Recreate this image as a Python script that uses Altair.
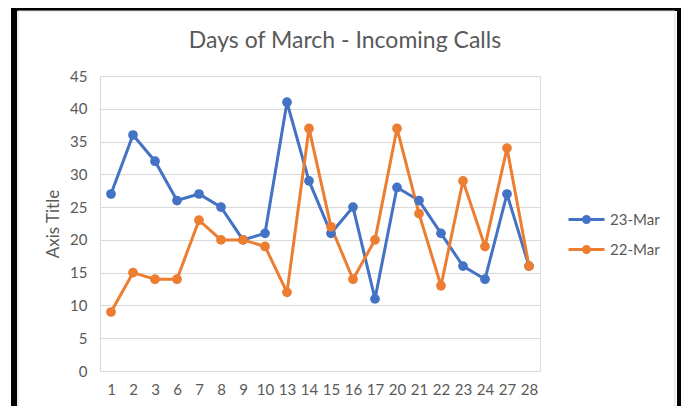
import altair as alt
import pandas as pd

days = ["1", "2", "3", "6", "7", "8", "9", "10", "13", "14", "15", "16", "17",
        "20", "21", "22", "23", "24", "27", "28"]
mar23 = [27, 36, 32, 26, 27, 25, 20, 21, 41, 29, 21, 25, 11, 28, 26, 21, 16, 14, 27, 16]
mar22 = [9, 15, 14, 14, 23, 20, 20, 19, 12, 37, 22, 14, 20, 37, 24, 13, 29, 19, 34, 16]
series = ["23-Mar", "22-Mar"]
colors = ["#4472C4", "#ED7D31"]

rows = []
for s, vals in zip(series, [mar23, mar22]):
    for d, v in zip(days, vals):
        rows.append({"day": d, "calls": v, "series": s})
df = pd.DataFrame(rows)

FONT = "Lato"
GRAY = "#595959"

sym = ("M-2,0H2"
       "M-0.333,0A0.333,0.333,0,1,1,0.333,0A0.333,0.333,0,1,1,-0.333,0"
       "M-0.11,0A0.11,0.11,0,1,1,0.11,0A0.11,0.11,0,1,1,-0.11,0")

x = alt.X("day:O", sort=days, title=None,
          scale=alt.Scale(type="point", padding=0.5),
          axis=alt.Axis(labelAngle=0, ticks=False, domainColor="#d9d9d9",
                        labelPadding=11, labelFontSize=15, labelColor=GRAY,
                        labelFont=FONT))
y = alt.Y("calls:Q", title="Axis Title",
          scale=alt.Scale(domain=[0, 45], nice=False),
          axis=alt.Axis(values=list(range(0, 50, 5)), ticks=False,
                        domainColor="#d9d9d9", gridColor="#d9d9d9",
                        labelPadding=13, labelFontSize=15, labelColor=GRAY,
                        labelFont=FONT, titleFont=FONT, titleFontSize=17,
                        titleFontWeight="normal", titleColor=GRAY,
                        titlePadding=7))
cscale = alt.Scale(domain=series, range=colors)
color = alt.Color("series:N", sort=series, scale=cscale,
                  legend=alt.Legend(title=None, orient="none", legendX=476,
                                    legendY=133, symbolType=sym,
                                    symbolSize=324, symbolStrokeWidth=3,
                                    rowPadding=10, labelFontSize=15,
                                    labelColor=GRAY, labelFont=FONT,
                                    labelOffset=13))

base = alt.Chart(df)
lines = base.mark_line(strokeWidth=3).encode(x=x, y=y, color=color)
points = base.mark_circle(size=95, opacity=1).encode(
    x=x, y=y, color=alt.Color("series:N", sort=series, scale=cscale))

one = pd.DataFrame({"k": [0]})
frame = alt.Chart(one).mark_rect(filled=False, stroke="black", strokeWidth=6,
                                 clip=False).encode(
    x=alt.value(-86), x2=alt.value(580), y=alt.value(-68), y2=alt.value(342))
inner = alt.Chart(one).mark_rect(filled=False, stroke="#d9d9d9", strokeWidth=1,
                                 clip=False).encode(
    x=alt.value(-82), x2=alt.value(575), y=alt.value(-65), y2=alt.value(337))

chart = alt.layer(frame, inner, lines, points).properties(
    width=440, height=295,
    autosize=alt.AutoSizeParams(type="none"),
    padding={"left": 92, "top": 68, "right": 141, "bottom": 35},
    title=alt.TitleParams("Days of March - Incoming Calls", fontSize=23,
                          font=FONT, fontWeight="normal", color=GRAY,
                          anchor="middle", dx=25, offset=0, dy=66,
                          baseline="alphabetic"),
).configure_view(stroke=None).configure(background="white")

chart.save("out.html", embed_options={"renderer": "svg", "actions": False})
